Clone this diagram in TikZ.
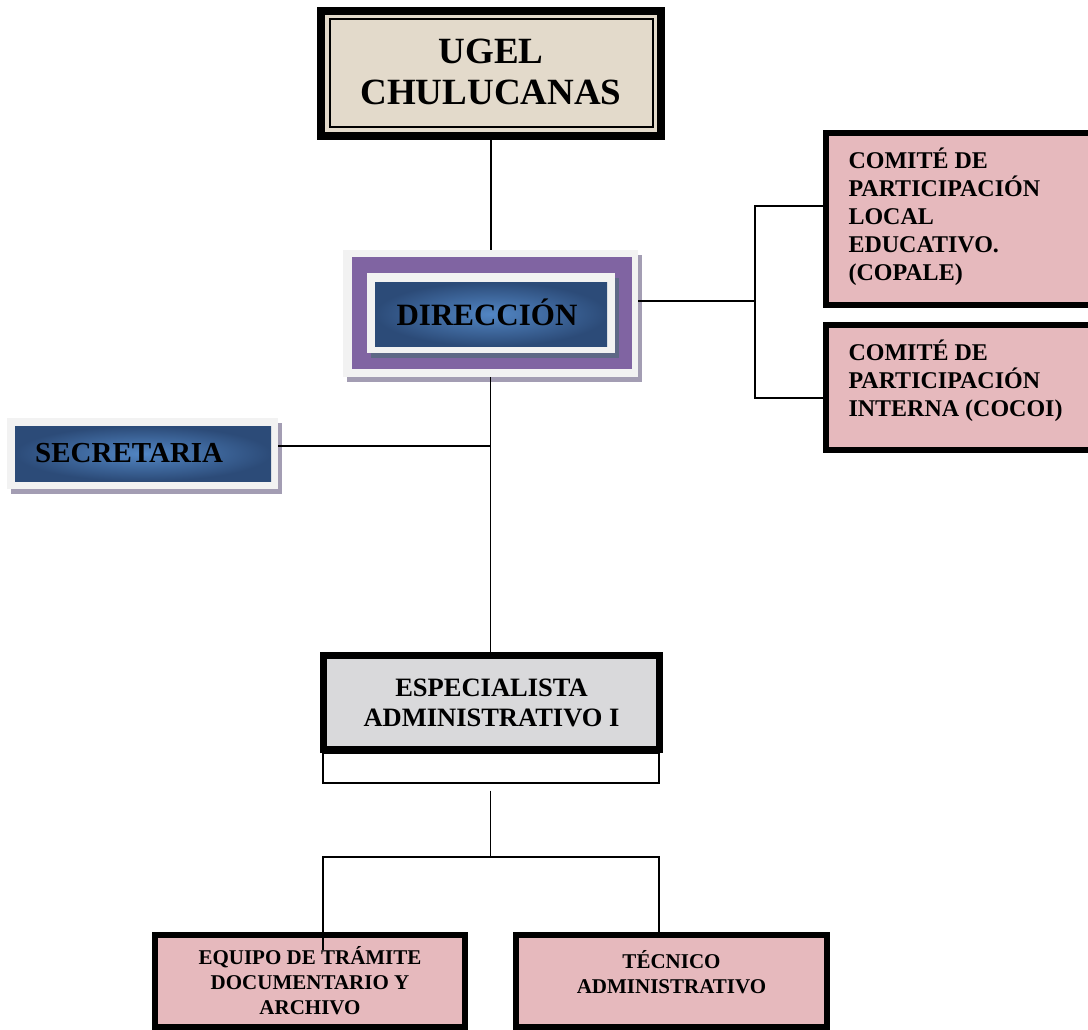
\documentclass[tikz,border=0pt]{standalone}
\usepackage{fontspec}
\setmainfont{Liberation Serif}
\usepackage{tikz}
\usetikzlibrary{positioning,shadows}
\definecolor{cBeige}{HTML}{E3DACB}
\definecolor{cPink}{HTML}{E6B9BD}
\definecolor{cGrayBox}{HTML}{D9D9DB}
\definecolor{cPurple}{HTML}{8064A2}
\definecolor{cFrame}{HTML}{F2F2F2}
\definecolor{cBlueL}{HTML}{5286C4}
\definecolor{cBlueD}{HTML}{2C4B78}
\definecolor{cShadow}{HTML}{A39DB3}
\definecolor{cShadowD}{HTML}{5E6886}
\newcommand{\boxfont}[2]{\fontsize{#1}{#2}\selectfont\bfseries}
\tikzset{link/.style={line width=1.3pt},
  heavybox/.style={draw,line width=6pt,fill=cPink,outer sep=0pt,inner sep=0pt},
  framebox/.style={fill=cFrame,outer sep=0pt,inner sep=0pt,
    drop shadow={shadow xshift=4pt,shadow yshift=-5pt,fill=#1,opacity=1}},
  bluebox/.style={shading=radial,inner color=cBlueL,outer color=cBlueD,outer sep=0pt,inner sep=0pt}}

\begin{document}
\begin{tikzpicture}[x=1pt,y=-1pt]
  \useasboundingbox (0,0) rectangle (1088,1030);
  \node[draw,line width=8pt,fill=cBeige,outer sep=0pt,minimum width=340pt,minimum height=125pt] (ugel) at (491,73.5) {};
  \draw[line width=2pt] ([xshift=8.5pt,yshift=-8.5pt]ugel.north west) rectangle ([xshift=-8.5pt,yshift=8.5pt]ugel.south east);
  \node[font=\boxfont{37}{41},align=center] (ugeltxt) at (491,71.5) {UGEL\\CHULUCANAS};
  \node[framebox=cShadow,minimum width=295pt,minimum height=127pt] (dir) at (490.5,313.5) {};
  \node[fill=cPurple,minimum width=280pt,minimum height=112pt] (dirmid) at (492,313) {};
  \node[framebox=cShadowD,minimum width=248pt,minimum height=80pt] (dirin) at (491,313) {};
  \node[bluebox,minimum width=232pt,minimum height=64pt] (dirblue) at (491,314) {};
  \node[font=\boxfont{31}{35}] (dirtxt) at (487,312) {DIRECCIÓN};
  \node[framebox=cShadow,minimum width=271pt,minimum height=71pt] (sec) at (142.5,453.5) {};
  \node[bluebox,minimum width=256pt,minimum height=55pt] (secblue) at (143,453.5) {};
  \node[font=\boxfont{29}{33},anchor=west,inner sep=0pt] (sectxt) at (35,453.5) {SECRETARIA};
  \node[heavybox,minimum width=269pt,minimum height=172pt] (cpl) at (960.5,219) {};
  \node[font=\boxfont{24}{28},align=left,anchor=west] (cpltxt) at (845,217) {COMITÉ DE\\PARTICIPACIÓN\\LOCAL\\EDUCATIVO.\\(COPALE)};
  \node[heavybox,minimum width=269pt,minimum height=125pt] (coc) at (960.5,387.5) {};
  \node[font=\boxfont{24}{28},align=left,anchor=west] (coctxt) at (845,381) {COMITÉ DE\\PARTICIPACIÓN\\INTERNA (COCOI)};
  \node[draw,link,minimum width=336pt,minimum height=30pt] (espsub) at (491,768) {};
  \node[heavybox,line width=7pt,fill=cGrayBox,minimum width=336pt,minimum height=94pt,font=\boxfont{26.5}{30},align=center] (esp) at (491.5,702.5) {ESPECIALISTA\\ADMINISTRATIVO I};
  \node[heavybox,minimum width=310pt,minimum height=92pt,font=\boxfont{21}{25},align=center] (eq) at (310,981) {EQUIPO DE TRÁMITE\\DOCUMENTARIO Y\\ARCHIVO};
  \node[heavybox,minimum width=311pt,minimum height=92pt] (tec) at (671.5,981) {};
  \node[font=\boxfont{21}{25},align=center] (tectxt) at (671.5,972) {TÉCNICO\\ADMINISTRATIVO};
  \coordinate (sj) at (490.5,446);
  \coordinate (cj) at (755,301);
  \coordinate (c1) at (755,206);
  \coordinate (c2) at (755,398);
  \coordinate (bj) at (490.5,857);
  \coordinate (bl) at (323,857);
  \coordinate (br) at (659,857);
  \coordinate (bend) at (323,950);
  \draw[link] (ugel.south) -- (ugel.south |- dir.north);
  \draw[link] (dir.south) -- (dir.south |- esp.north);
  \draw[link] (sec.east |- sj) -- (sj);
  \draw[link] (dir.east |- cj) -- (cj);
  \draw[link] (cpl.west |- c1) -- (c1) -- (c2) -- (coc.west |- c2);
  \draw[link] ([yshift=-7pt]bj |- espsub.south) -- (bj);
  \draw[link] (bend) -- (bl) -- (br) -- (br |- tec.north);
\end{tikzpicture}
\end{document}
